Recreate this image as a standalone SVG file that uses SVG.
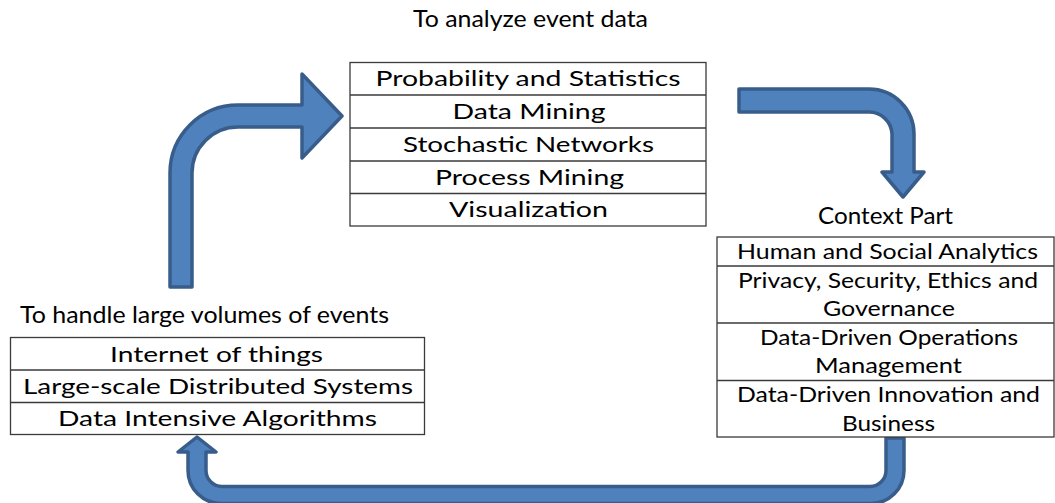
<svg xmlns="http://www.w3.org/2000/svg" width="1055" height="503" viewBox="0 0 1055 503">
  <style>
    .label { font-family: Lato, "Liberation Sans", sans-serif; font-size: 23px; fill: #000; }
    .item { font-family: Lato, "Liberation Sans", sans-serif; font-size: 21px; fill: #000; text-anchor: middle; }
    .box { fill: #fff; stroke: #3a3a3a; stroke-width: 1.3; }
    .sep { stroke: #3a3a3a; stroke-width: 1.3; }
    .arrow { fill: #4f81bd; stroke: #385d8a; stroke-width: 3.5; stroke-linejoin: round; }
  </style>

  <!-- Block arrows linking the three groups -->
  <g id="connectors">
    <!-- bent arrow rising from the lower-left group into the analysis table -->
    <path class="arrow" d="M 170 287 L 170 173 A 68 68 0 0 1 238 105 L 302 105 L 302 74 L 342 116 L 302 158 L 302 127 L 238 127 A 46 46 0 0 0 192 173 L 192 287 Z"/>
    <!-- arrow turning down from the analysis table to the context part -->
    <path class="arrow" d="M 739 89 L 869 89 A 45 45 0 0 1 914 134 L 914 172 L 924 172 L 903 197 L 882 172 L 892 172 L 892 134 A 23 23 0 0 0 869 112 L 739 112 Z"/>
    <!-- U-turn arrow from the context part back to the lower-left group -->
    <path class="arrow" d="M 904 438 L 904 470.5 A 33 33 0 0 1 871 503.5 L 221 503.5 A 33 33 0 0 1 188 470.5 L 188 452 L 178 452 L 197 437 L 216 452 L 206 452 L 206 470.5 A 16 16 0 0 0 222 486.5 L 870 486.5 A 16 16 0 0 0 886 470.5 L 886 438 Z"/>
  </g>

  <!-- Analysis techniques -->
  <g id="analysis">
    <text class="label" x="530.5" y="27" text-anchor="middle" textLength="235" lengthAdjust="spacingAndGlyphs">To analyze event data</text>
    <rect class="box" x="350" y="62.5" width="356" height="163.5"/>
    <line class="sep" x1="350" y1="95" x2="706" y2="95"/>
    <line class="sep" x1="350" y1="128" x2="706" y2="128"/>
    <line class="sep" x1="350" y1="161" x2="706" y2="161"/>
    <line class="sep" x1="350" y1="193.5" x2="706" y2="193.5"/>
    <text class="item" x="528" y="86" textLength="305" lengthAdjust="spacingAndGlyphs">Probability and Statistics</text>
    <text class="item" x="529" y="118.5" textLength="153" lengthAdjust="spacingAndGlyphs">Data Mining</text>
    <text class="item" x="528.5" y="151.5" textLength="251" lengthAdjust="spacingAndGlyphs">Stochastic Networks</text>
    <text class="item" x="529.5" y="184.5" textLength="189" lengthAdjust="spacingAndGlyphs">Process Mining</text>
    <text class="item" x="528.5" y="217" textLength="159" lengthAdjust="spacingAndGlyphs">Visualization</text>
  </g>

  <!-- Context part -->
  <g id="context">
    <text class="label" x="885.5" y="223.5" text-anchor="middle" textLength="135" lengthAdjust="spacingAndGlyphs">Context Part</text>
    <rect class="box" x="717" y="237" width="337" height="200"/>
    <line class="sep" x1="717" y1="266" x2="1054" y2="266"/>
    <line class="sep" x1="717" y1="323" x2="1054" y2="323"/>
    <line class="sep" x1="717" y1="380.5" x2="1054" y2="380.5"/>
    <text class="item" x="887.5" y="259" textLength="301" lengthAdjust="spacingAndGlyphs">Human and Social Analytics</text>
    <text class="item" x="888" y="288" textLength="300" lengthAdjust="spacingAndGlyphs">Privacy, Security, Ethics and</text>
    <text class="item" x="889" y="316" textLength="132" lengthAdjust="spacingAndGlyphs">Governance</text>
    <text class="item" x="889" y="345" textLength="258" lengthAdjust="spacingAndGlyphs">Data-Driven Operations</text>
    <text class="item" x="888.5" y="373" textLength="147" lengthAdjust="spacingAndGlyphs">Management</text>
    <text class="item" x="888.5" y="402" textLength="303" lengthAdjust="spacingAndGlyphs">Data-Driven Innovation and</text>
    <text class="item" x="888.5" y="431" textLength="93" lengthAdjust="spacingAndGlyphs">Business</text>
  </g>

  <!-- Large-scale event handling -->
  <g id="handling">
    <text class="label" x="20" y="323" textLength="369" lengthAdjust="spacingAndGlyphs">To handle large volumes of events</text>
    <rect class="box" x="10.5" y="337.5" width="414" height="97"/>
    <line class="sep" x1="10.5" y1="370" x2="424.5" y2="370"/>
    <line class="sep" x1="10.5" y1="402.5" x2="424.5" y2="402.5"/>
    <text class="item" x="216.5" y="361.5" textLength="213" lengthAdjust="spacingAndGlyphs">Internet of things</text>
    <text class="item" x="218" y="393.5" textLength="390" lengthAdjust="spacingAndGlyphs">Large-scale Distributed Systems</text>
    <text class="item" x="217.5" y="426" textLength="319" lengthAdjust="spacingAndGlyphs">Data Intensive Algorithms</text>
  </g>
</svg>
